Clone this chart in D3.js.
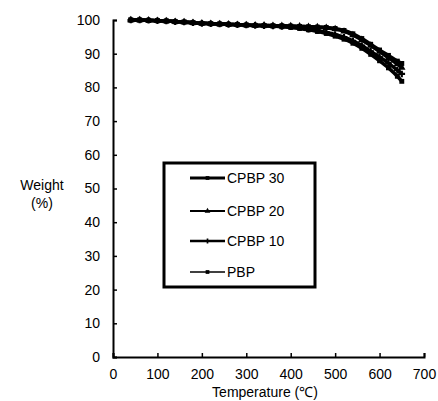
<!DOCTYPE html>
<html><head><meta charset="utf-8">
<script src="https://cdn.jsdelivr.net/npm/d3@7"></script>
<style>body{margin:0;background:#fff}svg{display:block;font-family:"Liberation Sans",Arial,sans-serif}</style>
</head><body><svg id="c" width="438" height="401"></svg>
<script>
const temps = [40,60,80,100,120,140,160,180,200,220,240,260,280,300,320,340,360,380,400,420,440,460,480,500,520,540,560,580,600,620,640,650];
const seriesNames = ["CPBP 30","CPBP 20","CPBP 10","PBP"];
const cpbp30 = [100,100,99.9,99.8,99.7,99.5,99.4,99.2,99.0,98.9,98.8,98.7,98.6,98.5,98.4,98.4,98.3,98.3,98.2,98.1,98.0,97.9,97.8,97.5,96.9,95.9,94.5,92.8,91.1,89.5,87.8,87.1];
const cpbp20 = [100,100,99.9,99.8,99.7,99.5,99.4,99.2,99.0,98.9,98.8,98.7,98.6,98.5,98.4,98.4,98.3,98.3,98.2,98.1,98.0,97.9,97.7,97.3,96.6,95.5,94.1,92.4,90.6,88.8,86.9,85.9];
const cpbp10 = [100,100,99.9,99.8,99.7,99.5,99.4,99.2,99.0,98.9,98.8,98.7,98.6,98.5,98.4,98.3,98.2,98.1,98.0,97.7,97.3,96.9,96.4,95.7,94.9,93.8,92.4,90.7,89.0,87.2,85.1,84.0];
const pbp    = [100,100,99.9,99.8,99.7,99.5,99.4,99.2,99.0,98.9,98.8,98.7,98.6,98.5,98.4,98.3,98.2,98.0,97.8,97.5,97.1,96.6,96.0,95.2,94.3,93.1,91.6,89.8,87.9,85.8,83.3,81.8];
const xTicks = [0,100,200,300,400,500,600,700];
const yTicks = [0,10,20,30,40,50,60,70,80,90,100];

const svg = d3.select("#c");
const x = d3.scaleLinear().domain([0,700]).range([113,424]);
const y = d3.scaleLinear().domain([0,100]).range([357,20]);

const xa = svg.append("g").attr("transform","translate(0,357)")
  .call(d3.axisBottom(x).tickValues(xTicks).tickSizeInner(-4).tickSizeOuter(-4).tickPadding(12));
const ya = svg.append("g").attr("transform","translate(113,0)")
  .call(d3.axisLeft(y).tickValues(yTicks).tickSizeInner(-4).tickSizeOuter(-4).tickPadding(13));
[xa,ya].forEach(a=>{
  a.select(".domain").attr("stroke","#000").attr("stroke-width",2);
  a.selectAll(".tick line").attr("stroke","#000").attr("stroke-width",1.5);
  a.selectAll("text").attr("font-size",14).attr("fill","#000").attr("font-family","Liberation Sans, Arial, sans-serif");
});

svg.append("text").attr("x",265).attr("y",397).attr("text-anchor","middle").attr("font-size",14).text("Temperature (℃)");
svg.append("text").attr("x",42).attr("y",190).attr("text-anchor","middle").attr("font-size",14).text("Weight");
svg.append("text").attr("x",42).attr("y",208).attr("text-anchor","middle").attr("font-size",14).text("(%)");

const data = [cpbp30,cpbp20,cpbp10,pbp];
const widths = [3,2,2.5,1.5];
const syms = [d3.symbolSquare,d3.symbolTriangle,d3.symbolCross,d3.symbolSquare];
const line = d3.line().x((d,i)=>x(temps[i])).y(d=>y(d)).curve(d3.curveMonotoneX);
data.forEach((vals,k)=>{
  svg.append("path").datum(vals).attr("d",line).attr("fill","none").attr("stroke","#000").attr("stroke-width",3.5);
  svg.append("g").selectAll("path").data(vals).join("path")
    .attr("transform",(d,i)=>`translate(${x(temps[i])},${y(d)})`)
    .attr("d",d3.symbol(syms[k],24)).attr("fill","#000");
});

svg.append("rect").attr("x",164).attr("y",163).attr("width",151).attr("height",124)
  .attr("fill","#fff").attr("stroke","#000").attr("stroke-width",3);
const ly = [178,211,241,272];
seriesNames.forEach((n,k)=>{
  svg.append("line").attr("x1",190).attr("x2",225).attr("y1",ly[k]).attr("y2",ly[k]).attr("stroke","#000").attr("stroke-width",widths[k]);
  svg.append("path").attr("transform",`translate(207.5,${ly[k]})`).attr("d",d3.symbol(syms[k],14)).attr("fill","#000");
  svg.append("text").attr("x",227).attr("y",ly[k]+5).attr("font-size",14).text(n);
});
</script></body></html>
